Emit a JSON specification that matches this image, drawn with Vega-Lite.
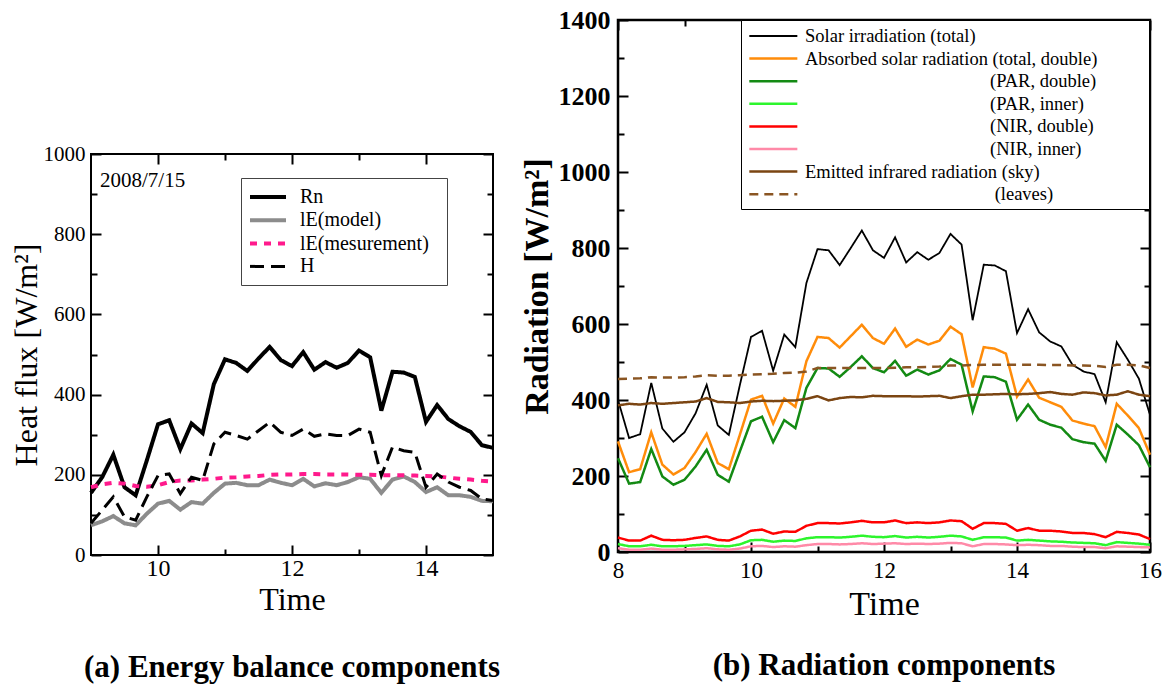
{
  "$schema": "https://vega.github.io/schema/vega-lite/v6.json",
  "background": "white",
  "padding": {"left": 9, "top": 5, "right": 0, "bottom": 0},
  "config": {
    "font": "Liberation Serif",
    "axis": {"domain": false, "grid": false, "tickColor": "black", "tickWidth": 2, "labelColor": "black", "titleColor": "black", "labelFont": "Liberation Serif", "titleFont": "Liberation Serif", "titleFontWeight": "normal", "labelFlush": false, "labelOverlap": false},
    "legend": {"labelFont": "Liberation Serif", "labelColor": "black"},
    "title": {"font": "Liberation Serif", "color": "black"}
  },
  "datasets": {
    "left": [
      {"t":9,"Rn":155,"lEmod":74,"lEmeas":169,"H":79},
      {"t":9.1667,"Rn":194,"lEmod":84,"lEmeas":176,"H":112},
      {"t":9.3333,"Rn":250,"lEmod":97,"lEmeas":180,"H":145},
      {"t":9.5,"Rn":169,"lEmod":79,"lEmeas":178,"H":95},
      {"t":9.6667,"Rn":149,"lEmod":74,"lEmeas":172,"H":87},
      {"t":9.8333,"Rn":236,"lEmod":103,"lEmeas":170,"H":145},
      {"t":10,"Rn":326,"lEmod":128,"lEmeas":174,"H":198},
      {"t":10.1667,"Rn":336,"lEmod":135,"lEmeas":182,"H":202},
      {"t":10.3333,"Rn":264,"lEmod":113,"lEmeas":186,"H":153},
      {"t":10.5,"Rn":328,"lEmod":132,"lEmeas":186,"H":194},
      {"t":10.6667,"Rn":304,"lEmod":128,"lEmeas":188,"H":186},
      {"t":10.8333,"Rn":426,"lEmod":155,"lEmeas":190,"H":277},
      {"t":11,"Rn":488,"lEmod":178,"lEmeas":193,"H":306},
      {"t":11.1667,"Rn":479,"lEmod":180,"lEmeas":194,"H":298},
      {"t":11.3333,"Rn":459,"lEmod":174,"lEmeas":196,"H":289},
      {"t":11.5,"Rn":490,"lEmod":174,"lEmeas":197,"H":310},
      {"t":11.6667,"Rn":519,"lEmod":188,"lEmeas":200,"H":331},
      {"t":11.8333,"Rn":486,"lEmod":180,"lEmeas":201,"H":306},
      {"t":12,"Rn":471,"lEmod":174,"lEmeas":201,"H":298},
      {"t":12.1667,"Rn":506,"lEmod":190,"lEmeas":202,"H":314},
      {"t":12.3333,"Rn":462,"lEmod":171,"lEmeas":202,"H":296},
      {"t":12.5,"Rn":481,"lEmod":179,"lEmeas":201,"H":302},
      {"t":12.6667,"Rn":467,"lEmod":174,"lEmeas":201,"H":298},
      {"t":12.8333,"Rn":479,"lEmod":182,"lEmeas":201,"H":298},
      {"t":13,"Rn":510,"lEmod":194,"lEmeas":200,"H":314},
      {"t":13.1667,"Rn":493,"lEmod":190,"lEmeas":200,"H":306},
      {"t":13.3333,"Rn":360,"lEmod":155,"lEmeas":199,"H":198},
      {"t":13.5,"Rn":457,"lEmod":188,"lEmeas":199,"H":269},
      {"t":13.6667,"Rn":455,"lEmod":196,"lEmeas":199,"H":260},
      {"t":13.8333,"Rn":444,"lEmod":182,"lEmeas":198,"H":256},
      {"t":14,"Rn":332,"lEmod":157,"lEmeas":197,"H":169},
      {"t":14.1667,"Rn":374,"lEmod":169,"lEmeas":196,"H":202},
      {"t":14.3333,"Rn":339,"lEmod":149,"lEmeas":193,"H":182},
      {"t":14.5,"Rn":321,"lEmod":149,"lEmeas":190,"H":169},
      {"t":14.6667,"Rn":307,"lEmod":145,"lEmeas":188,"H":161},
      {"t":14.8333,"Rn":274,"lEmod":135,"lEmeas":185,"H":140},
      {"t":15,"Rn":267,"lEmod":134,"lEmeas":183,"H":136}
    ],
    "right": [
      {"t":8,"sol":400,"abs":291,"par2":247,"par1":21,"nir2":38,"nir1":10,"sky":386,"leaf":455},
      {"t":8.1667,"sol":300,"abs":210,"par2":180,"par1":15,"nir2":30,"nir1":6,"sky":390,"leaf":456},
      {"t":8.3333,"sol":310,"abs":218,"par2":184,"par1":15,"nir2":30,"nir1":6,"sky":388,"leaf":457},
      {"t":8.5,"sol":445,"abs":315,"par2":271,"par1":19,"nir2":43,"nir1":9,"sky":392,"leaf":460},
      {"t":8.6667,"sol":325,"abs":230,"par2":199,"par1":15,"nir2":32,"nir1":6,"sky":390,"leaf":459},
      {"t":8.8333,"sol":290,"abs":204,"par2":177,"par1":15,"nir2":31,"nir1":6,"sky":392,"leaf":459},
      {"t":9,"sol":315,"abs":221,"par2":190,"par1":16,"nir2":32,"nir1":7,"sky":394,"leaf":460},
      {"t":9.1667,"sol":365,"abs":263,"par2":225,"par1":18,"nir2":37,"nir1":8,"sky":396,"leaf":462},
      {"t":9.3333,"sol":440,"abs":311,"par2":269,"par1":20,"nir2":41,"nir1":10,"sky":405,"leaf":465},
      {"t":9.5,"sol":333,"abs":234,"par2":203,"par1":16,"nir2":32,"nir1":7,"sky":395,"leaf":464},
      {"t":9.6667,"sol":308,"abs":218,"par2":185,"par1":15,"nir2":30,"nir1":6,"sky":394,"leaf":464},
      {"t":9.8333,"sol":440,"abs":309,"par2":265,"par1":20,"nir2":41,"nir1":9,"sky":392,"leaf":465},
      {"t":10,"sol":566,"abs":401,"par2":344,"par1":31,"nir2":56,"nir1":15,"sky":396,"leaf":467},
      {"t":10.1667,"sol":582,"abs":411,"par2":356,"par1":32,"nir2":59,"nir1":16,"sky":398,"leaf":468},
      {"t":10.3333,"sol":477,"abs":338,"par2":289,"par1":27,"nir2":48,"nir1":13,"sky":397,"leaf":469},
      {"t":10.5,"sol":572,"abs":404,"par2":347,"par1":30,"nir2":54,"nir1":15,"sky":398,"leaf":471},
      {"t":10.6667,"sol":539,"abs":382,"par2":326,"par1":29,"nir2":53,"nir1":14,"sky":399,"leaf":472},
      {"t":10.8333,"sol":708,"abs":502,"par2":432,"par1":36,"nir2":69,"nir1":18,"sky":403,"leaf":475},
      {"t":11,"sol":797,"abs":566,"par2":484,"par1":39,"nir2":76,"nir1":21,"sky":410,"leaf":484},
      {"t":11.1667,"sol":794,"abs":563,"par2":483,"par1":39,"nir2":76,"nir1":21,"sky":399,"leaf":484},
      {"t":11.3333,"sol":755,"abs":538,"par2":461,"par1":38,"nir2":75,"nir1":20,"sky":405,"leaf":484},
      {"t":11.5,"sol":800,"abs":568,"par2":487,"par1":40,"nir2":78,"nir1":21,"sky":408,"leaf":484},
      {"t":11.6667,"sol":846,"abs":598,"par2":515,"par1":43,"nir2":82,"nir1":23,"sky":407,"leaf":484},
      {"t":11.8333,"sol":794,"abs":563,"par2":484,"par1":40,"nir2":78,"nir1":21,"sky":411,"leaf":484},
      {"t":12,"sol":774,"abs":548,"par2":473,"par1":39,"nir2":78,"nir1":22,"sky":410,"leaf":484},
      {"t":12.1667,"sol":828,"abs":588,"par2":503,"par1":42,"nir2":83,"nir1":23,"sky":410,"leaf":485},
      {"t":12.3333,"sol":762,"abs":540,"par2":464,"par1":38,"nir2":76,"nir1":21,"sky":410,"leaf":486},
      {"t":12.5,"sol":789,"abs":559,"par2":480,"par1":40,"nir2":78,"nir1":22,"sky":409,"leaf":486},
      {"t":12.6667,"sol":769,"abs":546,"par2":467,"par1":38,"nir2":76,"nir1":21,"sky":410,"leaf":487},
      {"t":12.8333,"sol":787,"abs":556,"par2":478,"par1":40,"nir2":78,"nir1":22,"sky":411,"leaf":488},
      {"t":13,"sol":837,"abs":593,"par2":508,"par1":43,"nir2":83,"nir1":24,"sky":405,"leaf":491},
      {"t":13.1667,"sol":809,"abs":573,"par2":493,"par1":41,"nir2":81,"nir1":23,"sky":410,"leaf":491},
      {"t":13.3333,"sol":610,"abs":433,"par2":370,"par1":32,"nir2":61,"nir1":15,"sky":414,"leaf":492},
      {"t":13.5,"sol":756,"abs":539,"par2":462,"par1":39,"nir2":76,"nir1":21,"sky":414,"leaf":493},
      {"t":13.6667,"sol":754,"abs":535,"par2":460,"par1":39,"nir2":76,"nir1":21,"sky":415,"leaf":493},
      {"t":13.8333,"sol":739,"abs":522,"par2":448,"par1":38,"nir2":74,"nir1":20,"sky":416,"leaf":493},
      {"t":14,"sol":576,"abs":409,"par2":348,"par1":30,"nir2":56,"nir1":18,"sky":415,"leaf":493},
      {"t":14.1667,"sol":639,"abs":454,"par2":388,"par1":32,"nir2":63,"nir1":19,"sky":416,"leaf":493},
      {"t":14.3333,"sol":578,"abs":406,"par2":348,"par1":30,"nir2":56,"nir1":18,"sky":418,"leaf":493},
      {"t":14.5,"sol":554,"abs":394,"par2":335,"par1":28,"nir2":56,"nir1":16,"sky":421,"leaf":492},
      {"t":14.6667,"sol":541,"abs":382,"par2":327,"par1":27,"nir2":54,"nir1":16,"sky":416,"leaf":492},
      {"t":14.8333,"sol":493,"abs":346,"par2":297,"par1":25,"nir2":50,"nir1":14,"sky":414,"leaf":491},
      {"t":15,"sol":475,"abs":338,"par2":289,"par1":24,"nir2":50,"nir1":13,"sky":420,"leaf":491},
      {"t":15.1667,"sol":468,"abs":331,"par2":285,"par1":23,"nir2":47,"nir1":13,"sky":418,"leaf":490},
      {"t":15.3333,"sol":394,"abs":276,"par2":240,"par1":18,"nir2":39,"nir1":10,"sky":412,"leaf":487},
      {"t":15.5,"sol":552,"abs":390,"par2":335,"par1":26,"nir2":53,"nir1":15,"sky":414,"leaf":493},
      {"t":15.6667,"sol":506,"abs":359,"par2":309,"par1":24,"nir2":50,"nir1":14,"sky":423,"leaf":493},
      {"t":15.8333,"sol":456,"abs":326,"par2":281,"par1":22,"nir2":46,"nir1":13,"sky":414,"leaf":491},
      {"t":16,"sol":361,"abs":256,"par2":223,"par1":19,"nir2":34,"nir1":12,"sky":410,"leaf":484}
    ]
  },
  "hconcat": [
    {
      "vconcat": [
        {"width": 402, "height": 122, "data": {"values": []}, "mark": {"type": "point", "opacity": 0}, "view": {"stroke": null}},
        {
          "width": 402,
          "height": 401,
          "view": {"stroke": "black", "strokeWidth": 2},
          "title": {"text": "(a) Energy balance components", "orient": "bottom", "anchor": "middle", "frame": "group", "fontSize": 31, "fontWeight": "bold", "offset": 38},
          "data": {"name": "left"},
          "layer": [
            {
              "transform": [{"fold": ["Rn", "lEmod", "lEmeas", "H"], "as": ["s1", "v"]}],
              "mark": {"type": "line", "strokeJoin": "miter", "strokeMiterLimit": 4},
              "encoding": {
                "x": {"field": "t", "type": "quantitative", "scale": {"domain": [9, 15], "nice": false, "zero": false},
                      "axis": {"orient": "bottom", "values": [10, 12, 14], "tickSize": -10, "labelFontSize": 24, "labelPadding": 11, "format": "d", "title": "Time", "titleFontSize": 32, "titlePadding": 4}},
                "y": {"field": "v", "type": "quantitative", "scale": {"domain": [0, 1000], "nice": false, "zero": false},
                      "axis": {"orient": "left", "values": [0, 200, 400, 600, 800, 1000], "tickSize": -10, "labelFontSize": 21, "labelPadding": 16, "format": "d", "title": "Heat flux [W/m²]", "titleFontSize": 32, "titlePadding": 0}},
                "color": {"field": "s1", "type": "nominal", "scale": {"domain": ["Rn", "lEmod", "lEmeas", "H"], "range": ["#000000", "#8c8c8c", "#ff1a8c", "#000000"]},
                          "legend": {"orient": "none", "legendX": 150, "legendY": 24, "title": null, "direction": "vertical", "padding": 8, "strokeColor": "#444444", "fillColor": "white", "symbolType": "M-1.111,0H2.889", "symbolSize": 324, "labelFontSize": 20, "labelOffset": 29, "rowPadding": 2.3, "labelLimit": 400, "labelExpr": "datum.value=='Rn'?'Rn':datum.value=='lEmod'?'lE(model)':datum.value=='lEmeas'?'lE(mesurement)\u00a0\u00a0\u200b':'H'"}},
                "strokeDash": {"field": "s1", "type": "nominal", "scale": {"domain": ["Rn", "lEmod", "lEmeas", "H"], "range": [[1, 0], [1, 0], [7, 7], [14, 7]]},
                          "legend": {"orient": "none", "legendX": 150, "legendY": 24, "title": null, "direction": "vertical", "padding": 8, "strokeColor": "#444444", "fillColor": "white", "symbolType": "M-1.111,0H2.889", "symbolSize": 324, "labelFontSize": 20, "labelOffset": 29, "rowPadding": 2.3, "labelLimit": 400, "labelExpr": "datum.value=='Rn'?'Rn':datum.value=='lEmod'?'lE(model)':datum.value=='lEmeas'?'lE(mesurement)\u00a0\u00a0\u200b':'H'"}},
                "strokeWidth": {"field": "s1", "type": "nominal", "scale": {"type": "ordinal", "domain": ["Rn", "lEmod", "lEmeas", "H"], "range": [4, 4, 4, 3]},
                          "legend": {"orient": "none", "legendX": 150, "legendY": 24, "title": null, "direction": "vertical", "padding": 8, "strokeColor": "#444444", "fillColor": "white", "symbolType": "M-1.111,0H2.889", "symbolSize": 324, "labelFontSize": 20, "labelOffset": 29, "rowPadding": 2.3, "labelLimit": 400, "labelExpr": "datum.value=='Rn'?'Rn':datum.value=='lEmod'?'lE(model)':datum.value=='lEmeas'?'lE(mesurement)\u00a0\u00a0\u200b':'H'"}}
              }
            },
            {
              "data": {"values": [{"x": 9.134, "y": 918, "label": "2008/7/15"}]},
              "mark": {"type": "text", "align": "left", "baseline": "alphabetic", "fontSize": 21, "font": "Liberation Serif", "color": "black"},
              "encoding": {
                "x": {"field": "x", "type": "quantitative", "scale": {"domain": [9, 15], "nice": false, "zero": false},
                      "axis": {"orient": "top", "values": [10, 12, 14], "tickSize": -10, "labels": false, "title": null}},
                "y": {"field": "y", "type": "quantitative", "scale": {"domain": [0, 1000], "nice": false, "zero": false},
                      "axis": {"orient": "right", "values": [0, 200, 400, 600, 800, 1000], "tickSize": -10, "labels": false, "title": null}},
                "text": {"field": "label"}
              }
            },
            {
              "mark": {"type": "point", "opacity": 0},
              "encoding": {
                "x": {"field": "t", "type": "quantitative", "scale": {"domain": [9, 15], "nice": false, "zero": false},
                      "axis": {"orient": "bottom", "values": [11, 13], "tickSize": -6, "labels": false, "title": null}},
                "y": {"field": "Rn", "type": "quantitative", "scale": {"domain": [0, 1000], "nice": false, "zero": false},
                      "axis": {"orient": "left", "values": [100, 300, 500, 700, 900], "tickSize": -6, "labels": false, "title": null}}
              }
            },
            {
              "mark": {"type": "point", "opacity": 0},
              "encoding": {
                "x": {"field": "t", "type": "quantitative", "scale": {"domain": [9, 15], "nice": false, "zero": false},
                      "axis": {"orient": "top", "values": [11, 13], "tickSize": -6, "labels": false, "title": null}},
                "y": {"field": "Rn", "type": "quantitative", "scale": {"domain": [0, 1000], "nice": false, "zero": false},
                      "axis": {"orient": "right", "values": [100, 300, 500, 700, 900], "tickSize": -6, "labels": false, "title": null}}
              }
            }
          ],
          "resolve": {"axis": {"x": "independent", "y": "independent"}}
        }
      ],
      "spacing": 0,
      "resolve": {
        "scale": {"x": "independent", "y": "independent", "color": "independent", "strokeDash": "independent", "strokeWidth": "independent"},
        "legend": {"color": "independent", "strokeDash": "independent", "strokeWidth": "independent"}
      }
    },
    {
      "width": 532,
      "height": 532,
      "view": {"stroke": "black", "strokeWidth": 2.5},
      "title": {"text": "(b) Radiation components", "orient": "bottom", "anchor": "middle", "frame": "group", "fontSize": 31, "fontWeight": "bold", "offset": 30},
      "data": {"name": "right"},
      "layer": [
        {
          "transform": [{"fold": ["sol", "abs", "par2", "par1", "nir2", "nir1", "sky", "leaf"], "as": ["s2", "v"]}],
          "mark": {"type": "line", "strokeJoin": "miter", "strokeMiterLimit": 4},
          "encoding": {
            "x": {"field": "t", "type": "quantitative", "scale": {"domain": [8, 16], "nice": false, "zero": false},
                  "axis": {"orient": "bottom", "values": [8, 10, 12, 14, 16], "tickSize": -10, "labelFontSize": 23, "labelPadding": 17, "format": "d", "title": "Time", "titleFontSize": 34, "titlePadding": 5}},
            "y": {"field": "v", "type": "quantitative", "scale": {"domain": [0, 1400], "nice": false, "zero": false},
                  "axis": {"orient": "left", "values": [0, 200, 400, 600, 800, 1000, 1200, 1400], "tickSize": -10, "labelFontSize": 26, "labelFontWeight": "bold", "labelPadding": 18, "format": "d", "title": "Radiation [W/m²]", "titleFontSize": 34, "titleFontWeight": "bold", "titlePadding": 4}},
            "color": {"field": "s2", "type": "nominal", "scale": {"domain": ["sol", "abs", "par2", "par1", "nir2", "nir1", "sky", "leaf"], "range": ["#000000", "#ff8c0a", "#138a13", "#2df52d", "#ff0000", "#ff8aa8", "#7b4512", "#8a5522"]},
                      "legend": {"orient": "none", "legendX": 123, "legendY": 0, "title": null, "direction": "vertical", "padding": 5, "strokeColor": "black", "fillColor": "white", "symbolType": "M-0.8,0H4.2", "symbolSize": 369, "labelFontSize": 18.5, "labelOffset": 37, "rowPadding": 1.6, "labelLimit": 700, "labelExpr": "datum.value=='sol'?'Solar irradiation (total)':datum.value=='abs'?pad('Absorbed solar radiation (total, double)',50,'\u00a0','right')+'\u200b':datum.value=='par2'?'\u200b'+pad('(PAR, double)',53,'\u00a0','left'):datum.value=='par1'?'\u200b'+pad('(PAR, inner)',52,'\u00a0','left'):datum.value=='nir2'?'\u200b'+pad('(NIR, double)',53,'\u00a0','left'):datum.value=='nir1'?'\u200b'+pad('(NIR, inner)',52,'\u00a0','left'):datum.value=='sky'?'Emitted infrared radiation (sky)':'\u200b'+pad('(leaves)',49,'\u00a0','left')"}},
            "strokeDash": {"field": "s2", "type": "nominal", "scale": {"domain": ["sol", "abs", "par2", "par1", "nir2", "nir1", "sky", "leaf"], "range": [[1, 0], [1, 0], [1, 0], [1, 0], [1, 0], [1, 0], [1, 0], [9, 6]]},
                      "legend": {"orient": "none", "legendX": 123, "legendY": 0, "title": null, "direction": "vertical", "padding": 5, "strokeColor": "black", "fillColor": "white", "symbolType": "M-0.8,0H4.2", "symbolSize": 369, "labelFontSize": 18.5, "labelOffset": 37, "rowPadding": 1.6, "labelLimit": 700, "labelExpr": "datum.value=='sol'?'Solar irradiation (total)':datum.value=='abs'?pad('Absorbed solar radiation (total, double)',50,'\u00a0','right')+'\u200b':datum.value=='par2'?'\u200b'+pad('(PAR, double)',53,'\u00a0','left'):datum.value=='par1'?'\u200b'+pad('(PAR, inner)',52,'\u00a0','left'):datum.value=='nir2'?'\u200b'+pad('(NIR, double)',53,'\u00a0','left'):datum.value=='nir1'?'\u200b'+pad('(NIR, inner)',52,'\u00a0','left'):datum.value=='sky'?'Emitted infrared radiation (sky)':'\u200b'+pad('(leaves)',49,'\u00a0','left')"}},
            "strokeWidth": {"field": "s2", "type": "nominal", "scale": {"type": "ordinal", "domain": ["sol", "abs", "par2", "par1", "nir2", "nir1", "sky", "leaf"], "range": [1.8, 2.5, 2.5, 2.5, 2.5, 2.5, 2.5, 2.5]},
                      "legend": {"orient": "none", "legendX": 123, "legendY": 0, "title": null, "direction": "vertical", "padding": 5, "strokeColor": "black", "fillColor": "white", "symbolType": "M-0.8,0H4.2", "symbolSize": 369, "labelFontSize": 18.5, "labelOffset": 37, "rowPadding": 1.6, "labelLimit": 700, "labelExpr": "datum.value=='sol'?'Solar irradiation (total)':datum.value=='abs'?pad('Absorbed solar radiation (total, double)',50,'\u00a0','right')+'\u200b':datum.value=='par2'?'\u200b'+pad('(PAR, double)',53,'\u00a0','left'):datum.value=='par1'?'\u200b'+pad('(PAR, inner)',52,'\u00a0','left'):datum.value=='nir2'?'\u200b'+pad('(NIR, double)',53,'\u00a0','left'):datum.value=='nir1'?'\u200b'+pad('(NIR, inner)',52,'\u00a0','left'):datum.value=='sky'?'Emitted infrared radiation (sky)':'\u200b'+pad('(leaves)',49,'\u00a0','left')"}}
          }
        },
        {
          "mark": {"type": "point", "opacity": 0},
          "encoding": {
            "x": {"field": "t", "type": "quantitative", "scale": {"domain": [8, 16], "nice": false, "zero": false},
                  "axis": {"orient": "top", "values": [8, 10, 12, 14, 16], "tickSize": -10, "labels": false, "title": null}},
            "y": {"field": "sol", "type": "quantitative", "scale": {"domain": [0, 1400], "nice": false, "zero": false},
                  "axis": {"orient": "right", "values": [0, 200, 400, 600, 800, 1000, 1200, 1400], "tickSize": -10, "labels": false, "title": null}}
          }
        },
        {
          "mark": {"type": "point", "opacity": 0},
          "encoding": {
            "x": {"field": "t", "type": "quantitative", "scale": {"domain": [8, 16], "nice": false, "zero": false},
                  "axis": {"orient": "bottom", "values": [9, 11, 13, 15], "tickSize": -6, "labels": false, "title": null}},
            "y": {"field": "sol", "type": "quantitative", "scale": {"domain": [0, 1400], "nice": false, "zero": false},
                  "axis": {"orient": "left", "values": [100, 300, 500, 700, 900, 1100, 1300], "tickSize": -6, "labels": false, "title": null}}
          }
        },
        {
          "mark": {"type": "point", "opacity": 0},
          "encoding": {
            "x": {"field": "t", "type": "quantitative", "scale": {"domain": [8, 16], "nice": false, "zero": false},
                  "axis": {"orient": "top", "values": [9, 11, 13, 15], "tickSize": -6, "labels": false, "title": null}},
            "y": {"field": "sol", "type": "quantitative", "scale": {"domain": [0, 1400], "nice": false, "zero": false},
                  "axis": {"orient": "right", "values": [100, 300, 500, 700, 900, 1100, 1300], "tickSize": -6, "labels": false, "title": null}}
          }
        }
      ],
      "resolve": {"axis": {"x": "independent", "y": "independent"}}
    }
  ],
  "spacing": 16,
  "resolve": {
    "scale": {"x": "independent", "y": "independent", "color": "independent", "strokeDash": "independent", "strokeWidth": "independent"},
    "legend": {"color": "independent", "strokeDash": "independent", "strokeWidth": "independent"}
  }
}
